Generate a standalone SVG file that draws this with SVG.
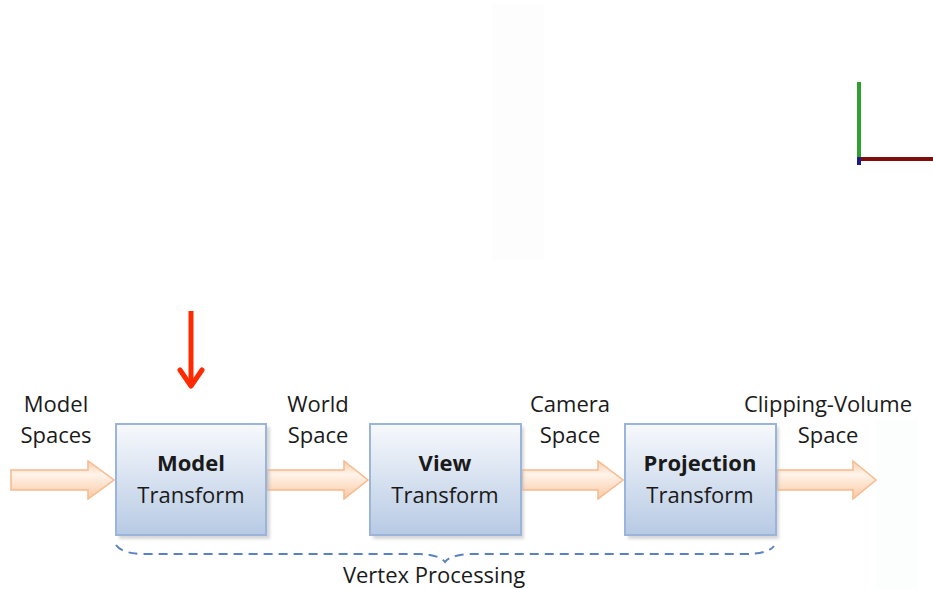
<svg xmlns="http://www.w3.org/2000/svg" width="933" height="589" viewBox="0 0 933 589">
<style>
.lbl{font-family:"Open Sans","Liberation Sans",sans-serif;font-size:22px;fill:#1a1a1a;text-anchor:middle}
.b{font-weight:bold}
.box{fill:url(#boxg);stroke:#9ab5d9;stroke-width:2}
.shadow{fill:#bdbdbd;opacity:0.6}
.arr{fill:url(#arrg);stroke:#f8b98c;stroke-width:1.5;stroke-linejoin:miter}
</style>
<defs>
<linearGradient id="boxg" x1="0" y1="0" x2="0" y2="1">
<stop offset="0" stop-color="#f7f9fc"/>
<stop offset="1" stop-color="#b7cae4"/>
</linearGradient>
<linearGradient id="arrg" x1="0" y1="0" x2="0" y2="1">
<stop offset="0" stop-color="#fbcfae"/>
<stop offset="0.35" stop-color="#fff3ea"/>
<stop offset="1" stop-color="#fbc9a3"/>
</linearGradient>
<filter id="blur" x="-20%" y="-20%" width="140%" height="140%"><feGaussianBlur stdDeviation="1.5"/></filter>
</defs>
<rect width="933" height="589" fill="#ffffff"/>
<rect x="492" y="4" width="52" height="256" fill="#fdfdfd"/>
<rect x="876" y="420" width="42" height="169" fill="#fcfdfd"/>
<g id="axes">
<rect x="857" y="82" width="4" height="76" fill="#2ea02e"/>
<rect x="861" y="157" width="72" height="4" fill="#7f0d0d"/>
<rect x="857" y="157" width="4" height="8" fill="#1a1a8c"/>
</g>
<g id="pointer">
<line x1="191" y1="311" x2="191" y2="386" stroke="#ff2a00" stroke-width="5"/>
<polyline points="180,370 191,386 202,370" fill="none" stroke="#ff2a00" stroke-width="5" stroke-linecap="round" stroke-linejoin="round"/>
</g>
<g id="connectors">
<polygon class="arr" points="11,470 88,470 88,461 114,480 88,499 88,490 11,490"/>
<polygon class="arr" points="267,470 344,470 344,461 368,480 344,499 344,490 267,490"/>
<polygon class="arr" points="522,470 598,470 598,461 623,480 598,499 598,490 522,490"/>
<polygon class="arr" points="777,470 853,470 853,461 876,480 853,499 853,490 777,490"/>
<path d="M116,545 Q122,554 145,554 L420,554 Q440,555 445,562 Q450,555 470,554 L745,554 Q768,554 774,546" fill="none" stroke="#5b82bf" stroke-width="2" stroke-dasharray="9,6"/>
</g>
<g id="label-model-spaces">
<text class="lbl" x="56" y="412">Model</text>
<text class="lbl" x="56" y="443">Spaces</text>
</g>
<g id="label-world-space">
<text class="lbl" x="318" y="412">World</text>
<text class="lbl" x="318" y="443">Space</text>
</g>
<g id="label-camera-space">
<text class="lbl" x="570" y="412">Camera</text>
<text class="lbl" x="570" y="443">Space</text>
</g>
<g id="label-clipping-space">
<text class="lbl" x="828" y="412">Clipping-Volume</text>
<text class="lbl" x="828" y="443">Space</text>
</g>
<g id="model-transform">
<rect class="shadow" x="119" y="427" width="151" height="112" filter="url(#blur)"/>
<rect class="box" x="116" y="424" width="150" height="111"/>
<text class="lbl b" x="191" y="471">Model</text>
<text class="lbl" x="191" y="503">Transform</text>
</g>
<g id="view-transform">
<rect class="shadow" x="373" y="427" width="151" height="112" filter="url(#blur)"/>
<rect class="box" x="370" y="424" width="151" height="111"/>
<text class="lbl b" x="445" y="471">View</text>
<text class="lbl" x="445" y="503">Transform</text>
</g>
<g id="projection-transform">
<rect class="shadow" x="628" y="427" width="151" height="112" filter="url(#blur)"/>
<rect class="box" x="625" y="424" width="151" height="111"/>
<text class="lbl b" x="700" y="471">Projection</text>
<text class="lbl" x="700" y="503">Transform</text>
</g>
<g id="vertex-processing">
<text class="lbl" x="434" y="583">Vertex Processing</text>
</g>
</svg>
